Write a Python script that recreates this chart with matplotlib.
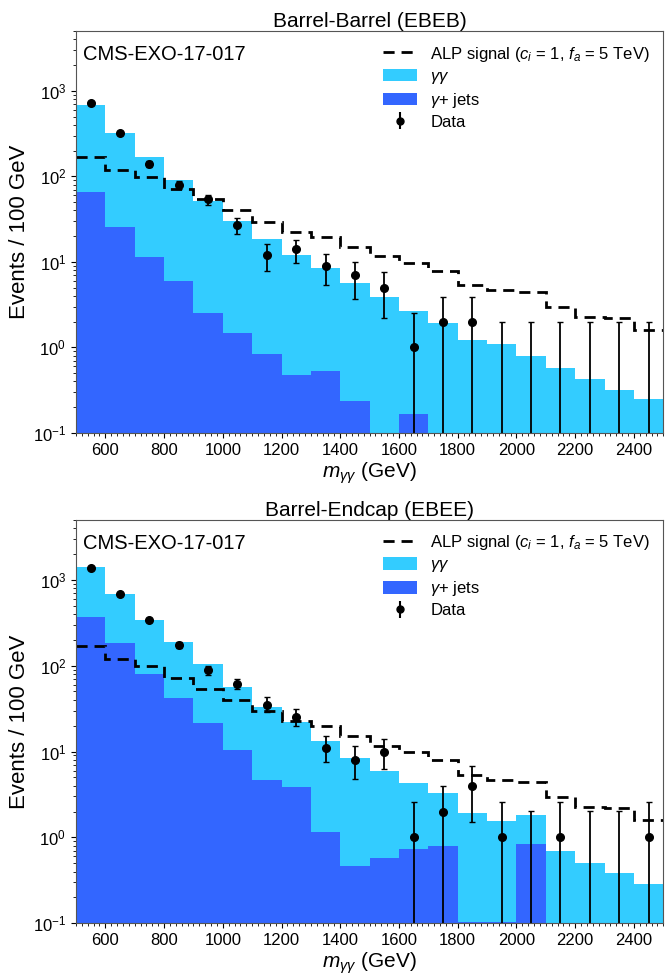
#!/usr/bin/env python3
"""plot.py: ALP search, diphoton mass spectra in EBEB and EBEE categories."""

import numpy as np
import matplotlib
matplotlib.use('Agg')
import matplotlib.pyplot as plt
from matplotlib.ticker import MultipleLocator, LogLocator, NullFormatter
from matplotlib.lines import Line2D
from matplotlib.patches import Patch

plt.rcParams['font.family'] = ['Liberation Sans', 'DejaVu Sans']
plt.rcParams['mathtext.fontset'] = 'custom'
plt.rcParams['mathtext.rm'] = 'Liberation Sans'
plt.rcParams['mathtext.it'] = 'Liberation Sans:italic'

# bin edges, 100 GeV from 500 to 2500
edges = np.arange(500, 2600, 100)
centers = edges[:-1] + 50

# ALP signal (same in both categories)
signal = [168, 120, 98, 72, 54, 40, 29.5, 22.6, 19.8, 15.1,
          11.6, 9.8, 7.9, 5.3, 4.7, 4.4, 2.97, 2.27, 2.18, 1.6]

# EBEB: stacked totals (gamma+jets on bottom, gamma gamma on top)
ebeb_gj = [65, 25.7, 11.4, 6.0, 2.5, 1.49, 0.84, 0.48, 0.53, 0.235,
           0, 0.167, 0, 0, 0, 0, 0, 0, 0, 0]
ebeb_total = [690, 322, 167, 91, 51, 29.8, 18.7, 11.9, 8.5, 5.6,
              3.9, 2.7, 1.94, 1.23, 1.09, 0.80, 0.58, 0.43, 0.32, 0.25]
ebeb_data = [720, 320, 141, 80, 54, 27, 12, 14, 9, 7,
             5, 1, 2, 2, 0, 0, 0, 0, 0, 0]
ebeb_err_lo = [27, 18, 12, 9, 8, 5.5, 4.2, 4.3, 3.7, 3.3,
               2.8, 1, 2, 2, 0, 0, 0, 0, 0, 0]
ebeb_err_hi = [27, 18, 12, 9, 6, 5.8, 4.0, 3.9, 3.4, 3.0,
               2.6, 1.5, 1.85, 1.85, 1.98, 1.98, 1.98, 1.98, 1.98, 1.98]

# EBEE
ebee_gj = [370, 181, 80, 42, 21.5, 10.3, 4.6, 3.86, 1.16, 0.47,
           0.58, 0.74, 0.80, 0.103, 0.105, 0.84, 0, 0, 0, 0]
ebee_total = [1390, 687, 344, 187, 105, 57, 33, 21.9, 13.4, 8.5,
              6.0, 4.3, 3.3, 1.95, 1.57, 1.82, 0.70, 0.51, 0.39, 0.29]
ebee_data = [1380, 675, 342, 173, 88, 61, 35, 25, 11, 8,
             10, 1, 2, 4, 1, 0, 1, 0, 0, 1]
ebee_err_lo = [37, 26, 18.5, 13, 10, 8, 6, 5.4, 3.4, 3.2,
               3.8, 1, 2, 2.5, 1, 0, 1, 0, 0, 1]
ebee_err_hi = [37, 26, 18.5, 13, 10, 8, 7.6, 6, 4, 3.5,
               4, 1.6, 2, 2.7, 1.6, 2.02, 1.6, 2.02, 2.02, 1.6]

C_GG = '#33ccff'
C_GJ = '#3366ff'


def step_fill(ax, vals, color):
    v = np.asarray(vals, dtype=float)
    v = np.where(v > 0, v, 1e-3)
    ax.stairs(v, edges, baseline=1e-3, fill=True, color=color, lw=0)


def draw_panel(ax, title, gj, total, data, elo, ehi):
    step_fill(ax, total, C_GG)
    step_fill(ax, gj, C_GJ)
    ax.stairs(signal, edges, baseline=None, color='black', ls=(0, (4, 2.5)), lw=2)

    data = np.asarray(data, dtype=float)
    elo = np.asarray(elo, dtype=float)
    ehi = np.asarray(ehi, dtype=float)
    # empty bins: marker sits far below the axis, only the upper bar shows
    yplot = np.where(data > 0, data, 1e-4)
    lo = np.where(data - elo > 0, elo, yplot * 0.999)
    ax.errorbar(centers, yplot, yerr=[lo, ehi], fmt='o', color='black',
                ms=5.5, capsize=2, elinewidth=1.3, capthick=1)

    ax.set_yscale('log')
    ax.set_xlim(500, 2500)
    ax.set_ylim(0.1, 5000)
    ax.xaxis.set_major_locator(MultipleLocator(200))
    ax.xaxis.set_minor_locator(MultipleLocator(20))
    ax.yaxis.set_minor_locator(LogLocator(subs=np.arange(2, 10)))
    ax.yaxis.set_minor_formatter(NullFormatter())
    ax.set_xticks(np.arange(600, 2500, 200))
    ax.tick_params(labelsize=12)
    ax.tick_params(which='minor', length=2)
    for s in ax.spines.values():
        s.set_color('#555555')

    ax.set_title(title, fontsize=15, pad=3)
    ax.set_xlabel(r'$m_{\gamma\gamma}$ (GeV)', fontsize=15, labelpad=2)
    ax.set_ylabel('Events / 100 GeV', fontsize=16, labelpad=2)
    ax.text(0.012, 0.965, 'CMS-EXO-17-017', transform=ax.transAxes,
            fontsize=14.5, va='top', ha='left')

    handles = [
        Line2D([], [], color='black', ls=(0, (4, 2.5)), lw=2),
        Patch(color=C_GG, lw=0),
        Patch(color=C_GJ, lw=0),
        ax.errorbar([], [], yerr=[], fmt='o', color='black', ms=5, capsize=2),
    ]
    labels = [r'ALP signal ($c_i$ = 1, $f_a$ = 5 TeV)', r'$\gamma\gamma$',
              r'$\gamma$+ jets', 'Data']
    ax.legend(handles, labels, loc='upper right', frameon=False, fontsize=12,
              handlelength=2.0, handleheight=0.8, borderaxespad=0.4,
              labelspacing=0.3)


def main():
    fig = plt.figure(figsize=(6.72, 9.75), dpi=100)
    ax1 = fig.add_axes([0.113, 0.556, 0.874, 0.412])
    ax2 = fig.add_axes([0.113, 0.053, 0.874, 0.414])
    draw_panel(ax1, 'Barrel-Barrel (EBEB)', ebeb_gj, ebeb_total, ebeb_data,
               ebeb_err_lo, ebeb_err_hi)
    draw_panel(ax2, 'Barrel-Endcap (EBEE)', ebee_gj, ebee_total, ebee_data,
               ebee_err_lo, ebee_err_hi)
    fig.savefig('out.png', dpi=100)
    plt.close(fig)


if __name__ == '__main__':
    main()
